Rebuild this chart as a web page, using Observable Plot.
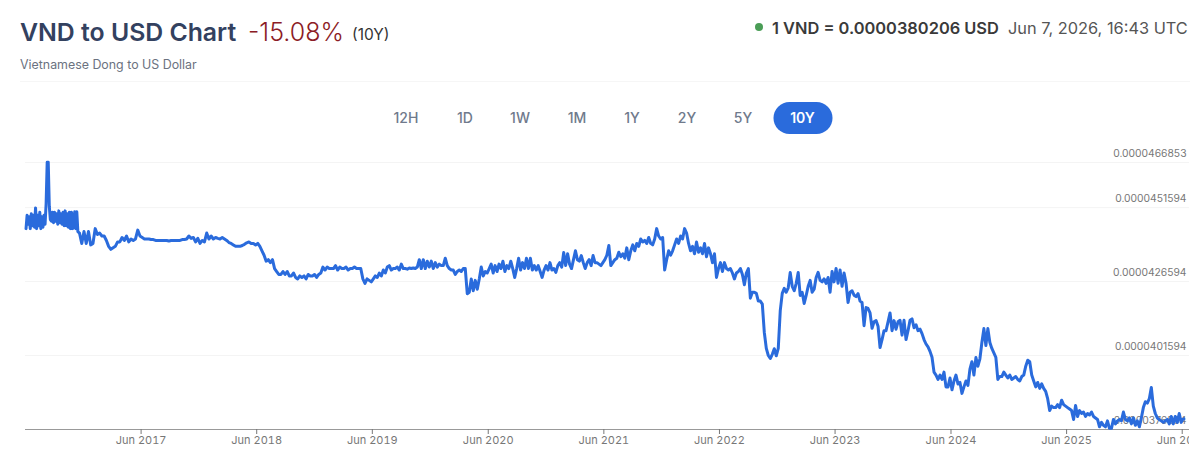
<!DOCTYPE html>
<html>
<head>
<meta charset="utf-8">
<title>VND to USD Chart</title>
<script src="https://cdn.jsdelivr.net/npm/d3@7"></script>
<script src="https://cdn.jsdelivr.net/npm/@observablehq/plot@0.6"></script>
<style>
  html,body{margin:0;padding:0;background:#fff;font-family:Inter,"Noto Sans",sans-serif;}
  #page{position:relative;width:1200px;height:458px;overflow:hidden;}
  .abs{position:absolute;white-space:nowrap;line-height:1;}
  #title{left:20px;top:20px;font-size:24.8px;font-weight:600;color:#33415f;}
  #change{left:248px;top:20px;font-size:25px;font-weight:300;color:#8c1c26;}
  #period{left:352px;top:27px;font-size:15.5px;font-weight:400;color:#333;}
  #subtitle{left:20px;top:59px;font-size:12.4px;color:#6b7280;}
  #sep{left:20px;top:81px;width:1170px;height:1px;background:#f6f6f6;}
  #dot{left:755px;top:23px;width:8px;height:8px;border-radius:50%;background:#4a9d56;}
  #quote{left:772px;top:20px;font-size:16.4px;font-weight:600;color:#3a3a3a;}
  #stamp{left:1008px;top:20px;font-size:16.35px;font-weight:400;color:#555;}
  #ranges span{position:absolute;top:111px;font-size:14px;font-weight:500;color:#6f7a8c;transform:translateX(-50%);line-height:1;white-space:nowrap;}
  #ranges span.on{top:102px;height:32px;width:59px;line-height:32px;text-align:center;border-radius:16px;background:#2a6bdc;color:#fff;font-weight:600;}
  #chart{position:absolute;left:0;top:140px;}
</style>
</head>
<body>
<div id="page">
  <div class="abs" id="title">VND to USD Chart</div>
  <div class="abs" id="change">-15.08%</div>
  <div class="abs" id="period">(10Y)</div>
  <div class="abs" id="subtitle">Vietnamese Dong to US Dollar</div>
  <div class="abs" id="sep"></div>
  <div class="abs" id="dot"></div>
  <div class="abs" id="quote">1 VND = 0.0000380206 USD</div>
  <div class="abs" id="stamp">Jun 7, 2026, 16:43 UTC</div>
  <div id="ranges"></div>
  <div id="chart"></div>
</div>
<script>
// Range buttons
const rangeLabels = ["12H","1D","1W","1M","1Y","2Y","5Y","10Y"];
const rangeCenters = [406,465,520,577,632,687,743,802.5];
const activeRange = "10Y";

// Axis labels
const yTickLabels = ["0.0000466853","0.0000451594","0.0000426594","0.0000401594","0.0000376594"];
const xTickYears = [2017,2018,2019,2020,2021,2022,2023,2024,2025,2026];

// Readings in millionths of a US dollar
const y2016a = [44.45,44.9,44.6,44.85,44.45,44.95,44.55,44.9,44.5,45.15,44.45,44.9,44.55,45.0,44.45,44.85,44.5,44.9,44.6,45.3,46.69,46.69,45.2,44.75,44.7,45.0,44.65,45.0,44.7,44.95,44.6,45.05,44.65,44.95,44.6,45.0,44.55,45.05,44.55,44.95,44.5,45.0,44.45,45.0,44.45,44.5,45.02,44.45,45.02,44.35];
const y2016b = [44.3,43.95,44.35,43.95,44.35,43.9,43.95,44.45,44.25,44.3,44.2,44.2,44.05,43.85,43.75,43.8,43.85,44.0,44.0,44.15,44.05,44.2,44.0,44.1,44.05,44.1,44.4,44.2];
const y2017 = [44.15,44.1,44.1,44.1,44.08,44.08,44.05,44.05,44.05,44.05,44.05,44.05,44.03,44.05,44.05,44.05,44.05,44.05,44.08,44.08,44.1,44.2,44.12,44.15,44.0,44.12,43.95,44.05,44.0,44.3,44.1,44.2,44.1,44.15,44.12,44.1,44.15,44.1,44.05,43.98,43.95,43.9,43.85,43.85,43.85,43.88,43.92,43.97,44.0,43.95,43.95,43.9];
const y2018 = [43.95,43.85,43.7,43.55,43.35,43.4,43.3,43.4,43.1,43.0,42.9,42.9,43.0,42.9,43.0,42.85,42.85,42.95,42.8,42.75,42.85,42.8,42.85,42.75,42.9,42.85,42.85,42.9,42.8,42.9,42.95,43.15,43.05,43.15,43.1,43.1,43.1,43.2,43.05,43.15,43.1,43.1,43.15,43.05,43.1,43.1,43.15,43.1,43.1,43.1,42.75,42.6,42.75,42.7,42.65];
const y2019 = [42.75,42.85,42.8,42.95,42.85,43.05,42.95,43.15,43.2,43.05,43.1,43.1,43.15,43.05,43.25,43.1,43.1,43.08,43.12,43.1,43.12,43.1,43.15,43.4,43.1,43.4,43.1,43.35,43.15,43.35,43.1,43.3,43.15,43.25,43.2,43.2,43.45,43.2,43.1,43.05,43.05,42.9,43.0,43.05,43.0,43.1,43.1,42.25,42.3,42.75,42.35,42.7,42.4,42.75,43.15,42.85,43.0,42.95];
const y2020 = [43.1,43.25,42.95,43.2,43.0,43.25,43.1,43.35,43.0,43.2,43.1,43.35,43.1,42.8,43.1,43.45,43.05,43.3,43.1,43.45,43.1,43.45,43.05,43.2,43.05,43.2,43.0,42.8,43.05,43.2,43.05,43.3,43.05,43.1,42.97,43.2,43.3,43.15,43.64,43.2,43.6,43.25,43.1,43.4,43.7,43.4,43.35,43.54,43.3,43.1,43.3,43.4,43.2,43.54,43.3,43.3,43.25,43.2,43.3];
const y2021 = [43.4,43.55,43.88,43.2,43.3,43.4,43.45,43.65,43.5,43.6,43.45,43.8,43.4,43.7,43.9,43.7,43.95,43.85,44.1,44.0,44.05,43.95,44.15,43.95,43.9,44.1,44.45,44.2,44.1,44.15,43.05,43.4,43.7,43.55,43.7,43.9,44.1,43.95,44.2,44.1,44.45,44.3,43.95,43.7,43.85,43.6,44.0,43.65,43.8,43.6,43.95,43.5,43.8,43.6,43.3,43.6,42.8,43.1];
const y2022 = [43.3,43.0,43.3,43.1,43.05,43.1,42.95,42.75,42.95,43.0,43.1,42.9,42.55,42.95,43.1,42.1,42.3,42.3,42.26,42.0,42.0,41.9,40.94,40.4,40.16,40.06,40.2,40.39,40.15,40.4,41.68,42.26,42.43,42.3,42.45,42.97,42.5,42.35,42.6,42.97,42.19,42.3,41.92,42.19,42.5,42.7,42.3,42.4,42.8,42.97,42.7,42.65,42.75,42.6,42.8,42.3,43.0,42.65];
const y2023 = [43.1,42.6,43.05,42.5,42.95,42.6,41.95,42.3,42.35,42.2,42.15,42.25,42.0,41.95,41.17,41.78,41.75,41.6,41.08,41.3,41.34,41.15,40.43,40.7,41.0,41.0,41.3,41.6,41.0,41.34,41.05,41.3,41.35,40.85,41.35,40.7,41.0,41.35,41.4,41.1,41.2,41.0,41.05,40.9,40.7,40.55,40.45,40.3,40.1,39.6,39.5,39.35,39.5,39.35,39.6,39.1,39.1,39.4];
const y2024 = [39.0,39.3,39.5,39.2,39.25,38.88,39.1,39.3,39.15,39.7,39.95,39.5,40.09,39.8,40.05,40.6,41.07,40.5,41.07,40.6,40.4,40.25,40.1,39.35,39.45,39.45,39.6,39.5,39.4,39.5,39.35,39.4,39.45,39.35,39.3,39.45,39.5,39.8,40.0,39.95,39.5,39.3,39.1,39.25,39.05,39.2,39.05,38.95,38.7,38.3,38.45,38.4,38.4,38.5,38.4,38.65,38.5,38.45];
const y2025 = [38.4,38.35,38.3,38.0,38.47,38.1,38.3,38.2,38.25,38.1,38.2,38.15,38.25,38.1,38.05,38.0,37.75,37.9,37.8,37.75,37.95,37.7,37.7,38.0,37.85,37.95,38.0,37.95,38.25,38.0,37.95,38.05,37.85,38.05,37.8,37.95,37.75,38.05,38.4,38.6,38.55,38.7,39.08,38.45,38.2,38.05,38.0,37.95,37.9,37.95,38.0,37.85,38.1,37.85,38.1,37.9,38.2,37.9];
const y2026 = [38.0,38.02];

const june = y => new Date(Date.UTC(y,5,1));
const spans = [
  [june(2016),new Date(Date.UTC(2016,10,15)),y2016a],
  [new Date(Date.UTC(2016,10,15)),june(2017),y2016b],
  [june(2017),june(2018),y2017],[june(2018),june(2019),y2018],[june(2019),june(2020),y2019],
  [june(2020),june(2021),y2020],[june(2021),june(2022),y2021],[june(2022),june(2023),y2022],
  [june(2023),june(2024),y2023],[june(2024),june(2025),y2024],[june(2025),june(2026),y2025],
  [june(2026),new Date(Date.UTC(2026,5,8)),y2026]
];
const rows = [];
for (const [a,b,vals] of spans) {
  vals.forEach((v,i)=>rows.push({date:new Date(+a+(i+0.5)/vals.length*(b-a)),rate:v}));
}

const yTicks = yTickLabels.map(s=>({label:s,value:+s*1e6}));

const host = document.getElementById("ranges");
rangeLabels.forEach((t,i)=>{
  const s=document.createElement("span");
  s.textContent=t; s.style.left=rangeCenters[i]+"px";
  if(t===activeRange) s.className="on";
  host.appendChild(s);
});

const chart = Plot.plot({
  width:1189,
  height:318,
  marginLeft:25,
  marginRight:0,
  marginTop:22,
  marginBottom:29,
  style:{overflow:"hidden",fontFamily:"Inter, sans-serif",background:"transparent"},
  x:{domain:[june(2016),new Date(Date.UTC(2026,5,24))],type:"utc",axis:null},
  y:{domain:[37.6594,46.6853],axis:null},
  marks:[
    Plot.ruleY(yTicks.slice(0,4),{y:"value",stroke:"#f4f4f4",strokeWidth:1}),
    Plot.text(yTicks,{y:"value",text:"label",frameAnchor:"right",dx:-3,dy:-9,fontSize:10.3,fill:"#777",textAnchor:"end"}),
    Plot.ruleY([37.6594],{stroke:"#999",strokeWidth:1}),
    Plot.axisX(xTickYears.map(june),{tickFormat:d3.utcFormat("%b %Y"),tickSize:5,tickPadding:2,fontSize:11,color:"#777",label:null}),
    Plot.line(rows,{x:"date",y:"rate",stroke:"#2a6bdc",strokeWidth:3,strokeLinejoin:"round",curve:"linear"})
  ]
});
document.getElementById("chart").appendChild(chart);
</script>
</body>
</html>
